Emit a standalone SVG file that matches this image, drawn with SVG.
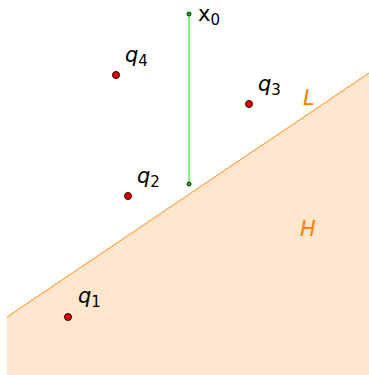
<svg xmlns="http://www.w3.org/2000/svg" width="369" height="375" viewBox="0 0 369 375">
<style>
.lbl{font-family:"DejaVu Sans","Liberation Sans",sans-serif;font-size:21px;font-style:oblique;fill:#000}
.sub{font-size:15px;font-style:normal}
.o{fill:#ff8000;font-family:"DejaVu Sans",sans-serif;font-size:21px;font-style:oblique}
.q{fill:#e00000;stroke:#300;stroke-width:1}
.g{fill:#2a2;stroke:#030;stroke-width:1}
</style>
<rect width="369" height="375" fill="#fff"/>
<g id="halfplane">
<polygon points="7,317 369,73 369,375 7,375" fill="#ffe6cc"/>
<line x1="7" y1="317" x2="369" y2="73" stroke="#ff8c1a" stroke-width="1"/>
<text class="o" x="303" y="105">L</text>
<text class="o" x="300" y="236">H</text>
</g>
<g id="connectors">
<line x1="189" y1="14" x2="189" y2="184" stroke="#66ee55" stroke-width="1.5"/>
</g>
<g id="x0"><circle class="g" cx="189" cy="14" r="2"/><text class="lbl" x="198" y="21" style="font-style:normal">x<tspan class="sub" dy="4">0</tspan></text></g>
<g id="p"><circle class="g" cx="189" cy="184" r="2"/></g>
<g id="q4"><circle class="q" cx="116" cy="75" r="3.5"/><text class="lbl" x="125" y="62">q<tspan class="sub" dy="4">4</tspan></text></g>
<g id="q3"><circle class="q" cx="249" cy="104" r="3.5"/><text class="lbl" x="258" y="91">q<tspan class="sub" dy="4">3</tspan></text></g>
<g id="q2"><circle class="q" cx="128" cy="196" r="3.5"/><text class="lbl" x="137" y="183">q<tspan class="sub" dy="4">2</tspan></text></g>
<g id="q1"><circle class="q" cx="68" cy="317" r="3.5"/><text class="lbl" x="78" y="303">q<tspan class="sub" dy="4">1</tspan></text></g>
</svg>
